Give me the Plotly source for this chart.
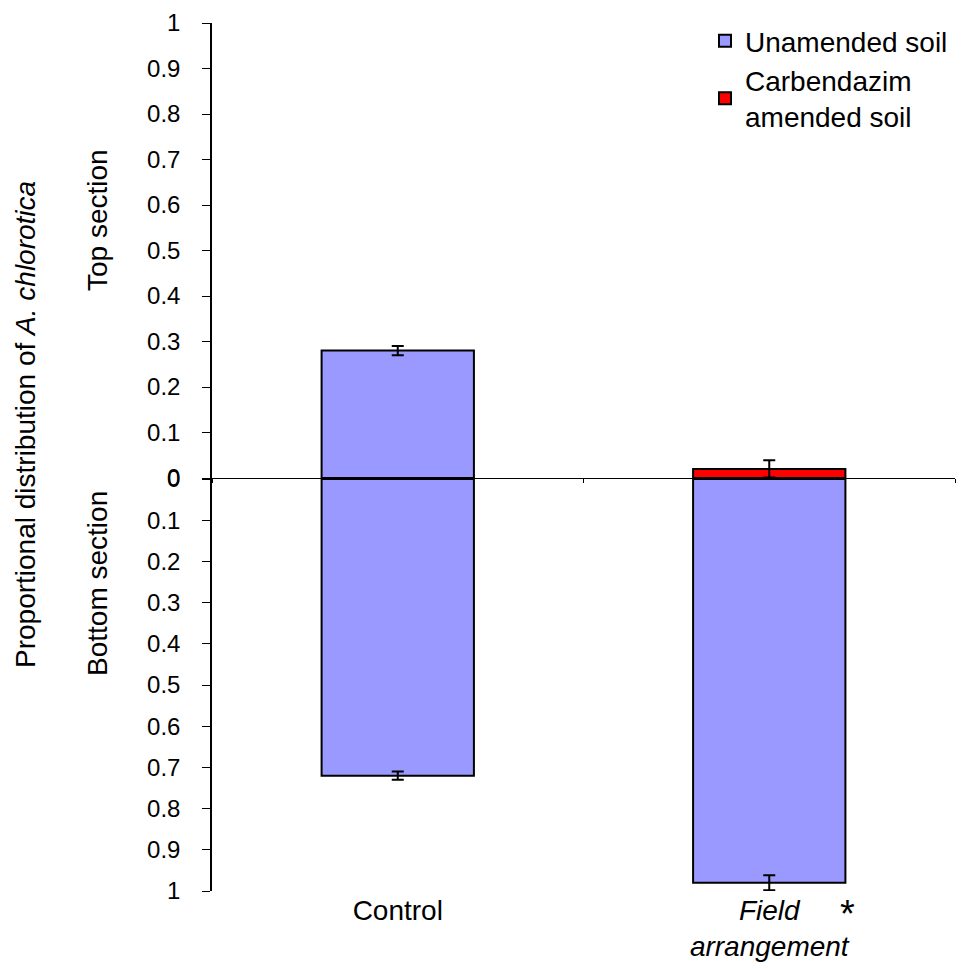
import plotly.graph_objects as go

categories = ["Control", "Field arrangement"]
tick_labels = ["Control", "<i>Field</i><br><i>arrangement</i>"]

# Top section
top_unamended_cat = ["Control"]
top_unamended_val = [0.28]
top_unamended_err = [0.01]
top_carb_cat = ["Field arrangement"]
top_carb_val = [0.02]
top_carb_err = [0.019]

# Bottom section
bottom_unamended_cat = ["Control", "Field arrangement"]
bottom_unamended_val = [0.72, 0.98]
bottom_unamended_err = [0.01, 0.018]

BLUE = "#9999ff"
RED = "#ff0000"
FONT = "Liberation Sans, Arial, sans-serif"

W, H = 965, 969
ML, MR, MT, MB = 204, 18, 15, 86
plot_h = H - MT - MB
plot_w = W - ML - MR
y_zero_top = 470
y_zero_bot = 471
top_dom = [(H - MB - y_zero_top) / plot_h, 1]
bot_dom = [0, (H - MB - y_zero_bot) / plot_h]

fig = go.Figure()

err_style = dict(type="data", visible=True, color="black", thickness=2, width=6)
bar_line = dict(color="black", width=2)

fig.add_trace(go.Bar(
    x=top_unamended_cat, y=top_unamended_val, xaxis="x2", yaxis="y",
    name="Unamended soil", marker=dict(color=BLUE, line=bar_line),
    error_y=dict(array=top_unamended_err, **err_style), width=0.41,
    legendrank=1,
))
fig.add_trace(go.Bar(
    x=top_carb_cat, y=top_carb_val, xaxis="x2", yaxis="y",
    name="Carbendazim<br>amended soil", marker=dict(color=RED, line=bar_line),
    error_y=dict(array=top_carb_err, **err_style), width=0.41,
    legendrank=2,
))
fig.add_trace(go.Bar(
    x=bottom_unamended_cat, y=bottom_unamended_val, xaxis="x", yaxis="y2",
    name="Unamended soil", showlegend=False, marker=dict(color=BLUE, line=bar_line),
    error_y=dict(array=bottom_unamended_err, **err_style), width=0.41,
))

tickfont = dict(family=FONT, size=24, color="black")

fig.update_layout(
    width=W, height=H,
    margin=dict(l=ML, r=MR, t=MT, b=MB, autoexpand=False),
    paper_bgcolor="white", plot_bgcolor="white",
    barmode="overlay",
    font=dict(family=FONT, color="black"),
    xaxis=dict(
        domain=[0, 1], anchor="y2", type="category", automargin=False,
        categoryorder="array", categoryarray=categories,
        tickvals=categories, ticktext=tick_labels,
        showline=False, ticks="", showgrid=False, zeroline=False,
        range=[-0.5, 1.5], tickfont=dict(family=FONT, size=28, color="black"),
    ),
    xaxis2=dict(
        domain=[0, 1], anchor="y", type="category", matches="x", automargin=False,
        categoryorder="array", categoryarray=categories,
        showline=True, linecolor="black", linewidth=1,
        ticks="outside", tickson="boundaries", ticklen=4, tickcolor="black",
        showticklabels=False, showgrid=False, zeroline=False,
    ),
    yaxis=dict(
        domain=top_dom, anchor="x2", range=[0, 1], dtick=0.1, tick0=0,
        automargin=False, ticklabeloverflow="allow",
        showline=True, linecolor="black", linewidth=1.5,
        ticks="outside", ticklen=8, tickcolor="black", ticklabelstandoff=17,
        showgrid=False, zeroline=False, tickfont=tickfont,
    ),
    yaxis2=dict(
        domain=bot_dom, anchor="x", range=[1, 0], dtick=0.1, tick0=0,
        automargin=False, ticklabeloverflow="allow",
        showline=True, linecolor="black", linewidth=1.5,
        ticks="outside", ticklen=8, tickcolor="black", ticklabelstandoff=17,
        showgrid=False, zeroline=False, tickfont=tickfont,
    ),
    legend=dict(
        x=(697 - ML) / plot_w, y=1.008, xanchor="left", yanchor="top",
        font=dict(family=FONT, size=28, color="black"),
        bgcolor="rgba(0,0,0,0)", tracegroupgap=0,
    ),
    showlegend=True,
)

def px_x(px):
    return (px - ML) / plot_w

def px_y(py):
    return (H - MB - py) / plot_h

ann_font = dict(family=FONT, size=28, color="black")
fig.add_annotation(
    text="Proportional distribution of <i>A. chlorotica</i>",
    xref="paper", yref="paper", x=px_x(17), y=px_y(417),
    xanchor="center", yanchor="middle",
    textangle=-90, showarrow=False, font=ann_font,
)
fig.add_annotation(
    text="Top section", xref="paper", yref="paper", x=px_x(89), y=px_y(212),
    xanchor="center", yanchor="middle",
    textangle=-90, showarrow=False, font=ann_font,
)
fig.add_annotation(
    text="Bottom section", xref="paper", yref="paper", x=px_x(89), y=px_y(575),
    xanchor="center", yanchor="middle",
    textangle=-90, showarrow=False, font=ann_font,
)
fig.add_annotation(
    text="*", xref="x", yref="paper", x=1.21, y=px_y(906),
    xanchor="center", yanchor="middle",
    showarrow=False, font=dict(family=FONT, size=38, color="black"),
)

fig.write_html("out.html")
